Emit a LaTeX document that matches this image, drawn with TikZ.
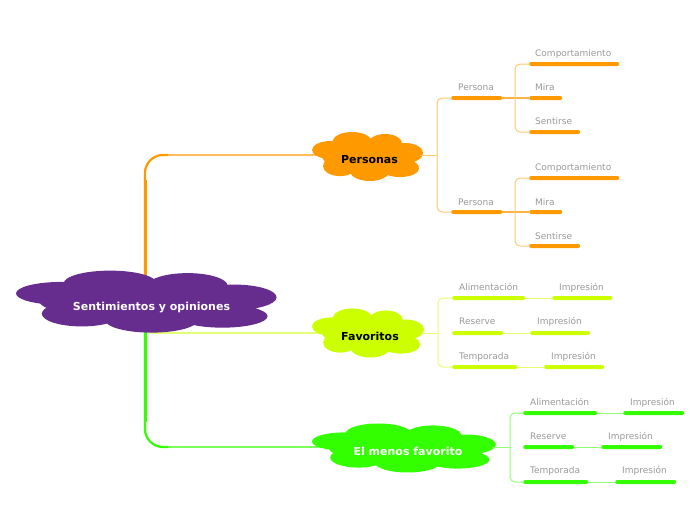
\documentclass[tikz,border=0pt]{standalone}
\usepackage{fontspec}
\setmainfont{DejaVu Sans}
\definecolor{mmorng}{HTML}{FF9900}
\definecolor{mmlime}{HTML}{CCFF00}
\definecolor{mmgrn}{HTML}{33FF00}
\definecolor{mmpurp}{HTML}{662D8F}
\definecolor{mmgray}{HTML}{999999}
\newcommand{\mmcloud}[5]{%
\fill[#5] (#1,#2) ellipse [x radius={0.82*#3*1pt}, y radius={0.61*#4*1pt}]
 ({#1-0.27*#3},{#2-0.57*#4}) ellipse [x radius={0.36*#3*1pt}, y radius={0.41*#4*1pt}]
 ({#1+0.33*#3},{#2-0.49*#4}) ellipse [x radius={0.31*#3*1pt}, y radius={0.41*#4*1pt}]
 ({#1-0.65*#3},{#2-0.245*#4}) ellipse [x radius={0.35*#3*1pt}, y radius={0.37*#4*1pt}]
 ({#1+0.69*#3},{#2-0.12*#4}) ellipse [x radius={0.33*#3*1pt}, y radius={0.41*#4*1pt}]
 ({#1-0.49*#3},{#2+0.41*#4}) ellipse [x radius={0.31*#3*1pt}, y radius={0.41*#4*1pt}]
 ({#1+0.05*#3},{#2+0.61*#4}) ellipse [x radius={0.36*#3*1pt}, y radius={0.41*#4*1pt}]
 ({#1+0.6*#3},{#2+0.49*#4}) ellipse [x radius={0.35*#3*1pt}, y radius={0.37*#4*1pt}];}
\tikzset{
  bar/.style={fill=#1, draw=none, minimum height=4pt, inner sep=0pt, rounded corners=2pt, anchor=west},
  lbl/.style={font=\fontsize{9}{11}\selectfont, text=mmgray, inner sep=0pt, anchor=base west},
  ctxt/.style={font=\fontsize{11}{13}\selectfont\bfseries, inner sep=0pt, anchor=base},
  lnk/.style={draw=#1!55, line width=1pt, rounded corners=5pt},
  sub/.style={draw=#1!75, line width=1.6pt},
}
\begin{document}
\begin{tikzpicture}[x=1pt,y=-1pt]
\useasboundingbox (0,0) rectangle (697,520);
% main connectors
\coordinate (r0) at (145,300);
\coordinate (persW) at (330,155);
\coordinate (favW) at (330,333);
\coordinate (menW) at (330,447);
\coordinate (persK) at (168,155);
\coordinate (menK) at (168,447);
\draw[mmorng, line width=1.2pt, rounded corners=18pt] (r0) |- (persW);
\draw[mmorng, line width=2.2pt, rounded corners=18pt] (r0) |- (persK);
\draw[mmorng, line width=3pt] (r0) -- (145,180);
\draw[mmlime!55, line width=1.5pt] (150,333) -- (favW);
\draw[mmgrn, line width=1.2pt, rounded corners=18pt] (r0) |- (menW);
\draw[mmgrn, line width=2.2pt, rounded corners=18pt] (r0) |- (menK);
\draw[mmgrn, line width=3pt] (r0) -- (145,422);
% clouds
\mmcloud{145}{301}{129}{31}{mmpurp}
\mmcloud{367}{156}{55}{24.5}{mmorng}
\mmcloud{367.5}{332.5}{55.5}{24.5}{mmlime}
\mmcloud{403}{447.5}{91}{24.5}{mmgrn}
\node[ctxt, text=white] (root) at (151.5,310) {Sentimientos y opiniones};
\node[ctxt, text=black] (pers) at (369.5,163) {Personas};
\node[ctxt, text=black] (fav) at (370,340) {Favoritos};
\node[ctxt, text=white] (men) at (408,455) {El menos favorito};
% ---------- Personas ----------
\coordinate (persE) at (420,155);
\coordinate (jp) at (437,155);
\node[bar=mmorng, minimum width=51pt] (p1) at (451,98) {};
\node[bar=mmorng, minimum width=51pt] (p2) at (451,212) {};
\node[lbl] (lp1) at (458,90.5) {Persona};
\node[lbl] (lp2) at (458,205.5) {Persona};
\draw[lnk=mmorng] (persE) -- (jp);
\draw[lnk=mmorng] (jp) |- (p1.west);
\draw[lnk=mmorng] (jp) |- (p2.west);
% persona 1
\coordinate (jp1) at (515,98);
\node[bar=mmorng, minimum width=90pt] (c1) at (529,64) {};
\node[bar=mmorng, minimum width=33pt] (m1) at (529,98) {};
\node[bar=mmorng, minimum width=51pt] (s1) at (529,132) {};
\node[lbl] (lc1) at (535,56.5) {Comportamiento};
\node[lbl] (lm1) at (535,90.5) {Mira};
\node[lbl] (ls1) at (535,124.5) {Sentirse};
\draw[sub=mmorng] (p1.east) -- (m1.west);
\draw[lnk=mmorng] (jp1) |- (c1.west);
\draw[lnk=mmorng] (jp1) |- (s1.west);
% persona 2
\coordinate (jp2) at (515,212);
\node[bar=mmorng, minimum width=90pt] (c2) at (529,178) {};
\node[bar=mmorng, minimum width=33pt] (m2) at (529,212) {};
\node[bar=mmorng, minimum width=51pt] (s2) at (529,246) {};
\node[lbl] (lc2) at (535,170.5) {Comportamiento};
\node[lbl] (lm2) at (535,205.5) {Mira};
\node[lbl] (ls2) at (535,239.5) {Sentirse};
\draw[sub=mmorng] (p2.east) -- (m2.west);
\draw[lnk=mmorng] (jp2) |- (c2.west);
\draw[lnk=mmorng] (jp2) |- (s2.west);
% ---------- Favoritos ----------
\coordinate (favE) at (421,333);
\coordinate (jf) at (438,333);
\node[bar=mmlime, minimum width=73pt] (a1) at (452,298) {};
\node[bar=mmlime, minimum width=60pt] (i1) at (552,298) {};
\node[bar=mmlime, minimum width=51pt] (r1) at (452,333) {};
\node[bar=mmlime, minimum width=60pt] (i2) at (530,333) {};
\node[bar=mmlime, minimum width=65pt] (t1) at (452,367) {};
\node[bar=mmlime, minimum width=60pt] (i3) at (544,367) {};
\node[lbl] (la1) at (459,290.5) {Alimentación};
\node[lbl] (li1) at (559,290.5) {Impresión};
\node[lbl] (lr1) at (459,324.5) {Reserve};
\node[lbl] (li2) at (537,324.5) {Impresión};
\node[lbl] (lt1) at (459,359.5) {Temporada};
\node[lbl] (li3) at (551,359.5) {Impresión};
\draw[lnk=mmlime] (favE) -- (jf);
\draw[lnk=mmlime] (jf) |- (a1.west);
\draw[lnk=mmlime] (jf) |- (t1.west);
\draw[lnk=mmlime] (a1.east) -- (i1.west);
\draw[lnk=mmlime] (r1.east) -- (i2.west);
\draw[lnk=mmlime] (t1.east) -- (i3.west);
% ---------- El menos favorito ----------
\coordinate (menE) at (492,447);
\coordinate (jm) at (510,447);
\node[bar=mmgrn, minimum width=74pt] (a2) at (523,413) {};
\node[bar=mmgrn, minimum width=61pt] (i4) at (623,413) {};
\node[bar=mmgrn, minimum width=51pt] (r2) at (523,447) {};
\node[bar=mmgrn, minimum width=61pt] (i5) at (601,447) {};
\node[bar=mmgrn, minimum width=65pt] (t2) at (523,482) {};
\node[bar=mmgrn, minimum width=61pt] (i6) at (615,482) {};
\node[lbl] (la2) at (530,405.5) {Alimentación};
\node[lbl] (li4) at (630,405.5) {Impresión};
\node[lbl] (lr2) at (530,439.5) {Reserve};
\node[lbl] (li5) at (608,439.5) {Impresión};
\node[lbl] (lt2) at (530,473.5) {Temporada};
\node[lbl] (li6) at (622,473.5) {Impresión};
\draw[lnk=mmgrn] (menE) -- (jm);
\draw[lnk=mmgrn] (jm) |- (a2.west);
\draw[lnk=mmgrn] (jm) |- (t2.west);
\draw[lnk=mmgrn] (a2.east) -- (i4.west);
\draw[lnk=mmgrn] (r2.east) -- (i5.west);
\draw[lnk=mmgrn] (t2.east) -- (i6.west);
\end{tikzpicture}
\end{document}
